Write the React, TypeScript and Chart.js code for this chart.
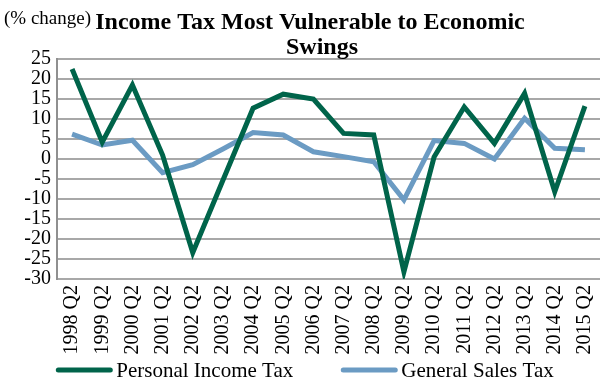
import React, { useEffect, useRef } from "react";
import { Chart, registerables } from "chart.js";

Chart.register(...registerables);

const categories = ["1998 Q2","1999 Q2","2000 Q2","2001 Q2","2002 Q2","2003 Q2","2004 Q2","2005 Q2","2006 Q2","2007 Q2","2008 Q2","2009 Q2","2010 Q2","2011 Q2","2012 Q2","2013 Q2","2014 Q2","2015 Q2"];
const personalIncomeTax = [22.5, 4.2, 18.5, 1.0, -23.4, -5.3, 12.7, 16.2, 15.0, 6.4, 6.0, -28.2, 0.5, 13.0, 3.9, 16.4, -8.2, 13.2];
const generalSalesTax = [6.2, 3.5, 4.7, -3.4, -1.4, 2.5, 6.6, 6.0, 1.8, 0.6, -0.7, -10.2, 4.6, 3.9, 0.0, 10.2, 2.7, 2.3];
const titleLines = ["Income Tax Most Vulnerable to Economic", "Swings"];
const unitLabel = "(% change)";

const SERIF = "'Liberation Serif', 'Times New Roman', serif";

const titlePlugin = {
  id: "customTitle",
  afterDraw(chart: any) {
    const ctx = chart.ctx;
    ctx.save();
    ctx.fillStyle = "#000";
    ctx.textBaseline = "alphabetic";
    ctx.font = `19px ${SERIF}`;
    ctx.textAlign = "left";
    ctx.fillText(unitLabel, 4, 24);
    ctx.font = `bold 24px ${SERIF}`;
    ctx.textAlign = "center";
    ctx.fillText(titleLines[0], 310, 29);
    ctx.fillText(titleLines[1], 322, 54);
    ctx.restore();
  },
};

const legendPlugin = {
  id: "customLegend",
  afterDraw(chart: any) {
    const ctx = chart.ctx;
    const ds = chart.data.datasets;
    ctx.save();
    ctx.font = `21px ${SERIF}`;
    ctx.textBaseline = "middle";
    ctx.textAlign = "left";
    const sample = 56;
    const gapText = 4;
    const gapItem = 48;
    const widths = ds.map((d: any) => sample + gapText + ctx.measureText(d.label).width);
    const total = widths.reduce((a: number, b: number) => a + b, 0) + gapItem * (ds.length - 1);
    let x = 305 - total / 2;
    const y = 370;
    ds.forEach((d: any, i: number) => {
      ctx.strokeStyle = d.borderColor;
      ctx.lineWidth = 5;
      ctx.lineCap = "round";
      ctx.beginPath();
      ctx.moveTo(x + 2, y);
      ctx.lineTo(x + sample - 2, y);
      ctx.stroke();
      ctx.fillStyle = "#000";
      ctx.fillText(d.label, x + sample + gapText, y + 1);
      x += widths[i] + gapItem;
    });
    ctx.restore();
  },
};

export default function App() {
  const ref = useRef<HTMLCanvasElement>(null);
  useEffect(() => {
    document.body.style.margin = "0";
    const chart = new Chart(ref.current!, {
      type: "line",
      data: {
        labels: categories,
        datasets: [
          {
            label: "Personal Income Tax",
            data: personalIncomeTax,
            borderColor: "#00644a",
            backgroundColor: "#00644a",
            borderWidth: 5,
            pointRadius: 0,
            tension: 0,
          },
          {
            label: "General Sales Tax",
            data: generalSalesTax,
            borderColor: "#6b9bc3",
            backgroundColor: "#6b9bc3",
            borderWidth: 5,
            pointRadius: 0,
            tension: 0,
          },
        ],
      },
      options: {
        responsive: false,
        animation: false,
        layout: { padding: { top: 59, right: 7, bottom: 28, left: 0 } },
        plugins: {
          title: { display: false },
          tooltip: { enabled: false },
          legend: { display: false },
        },
        scales: {
          x: {
            offset: true,
            grid: { display: false, drawTicks: false },
            border: { display: false },
            ticks: {
              font: { family: SERIF, size: 20 },
              color: "#000",
              maxRotation: 90,
              minRotation: 90,
              autoSkip: false,
              padding: 6,
            },
            afterFit: (s: any) => {
              s.height = 76;
              s.paddingLeft = 0;
              s.paddingRight = 0;
            },
          },
          y: {
            min: -30,
            max: 25,
            ticks: {
              stepSize: 5,
              autoSkip: false,
              font: { family: SERIF, size: 20 },
              color: "#000",
              padding: 6,
            },
            grid: { color: "#a8a8a8", lineWidth: 2, drawTicks: false },
            border: { display: true, color: "#909090", width: 2 },
            afterFit: (s: any) => {
              s.width = 57;
              s.paddingTop = 0;
              s.paddingBottom = 0;
            },
          },
        },
      },
      plugins: [titlePlugin, legendPlugin],
    });
    return () => chart.destroy();
  }, []);
  return (
    <div style={{ position: "absolute", left: 0, top: 0, width: 607, height: 383 }}>
      <canvas ref={ref} width={607} height={383} />
    </div>
  );
}
